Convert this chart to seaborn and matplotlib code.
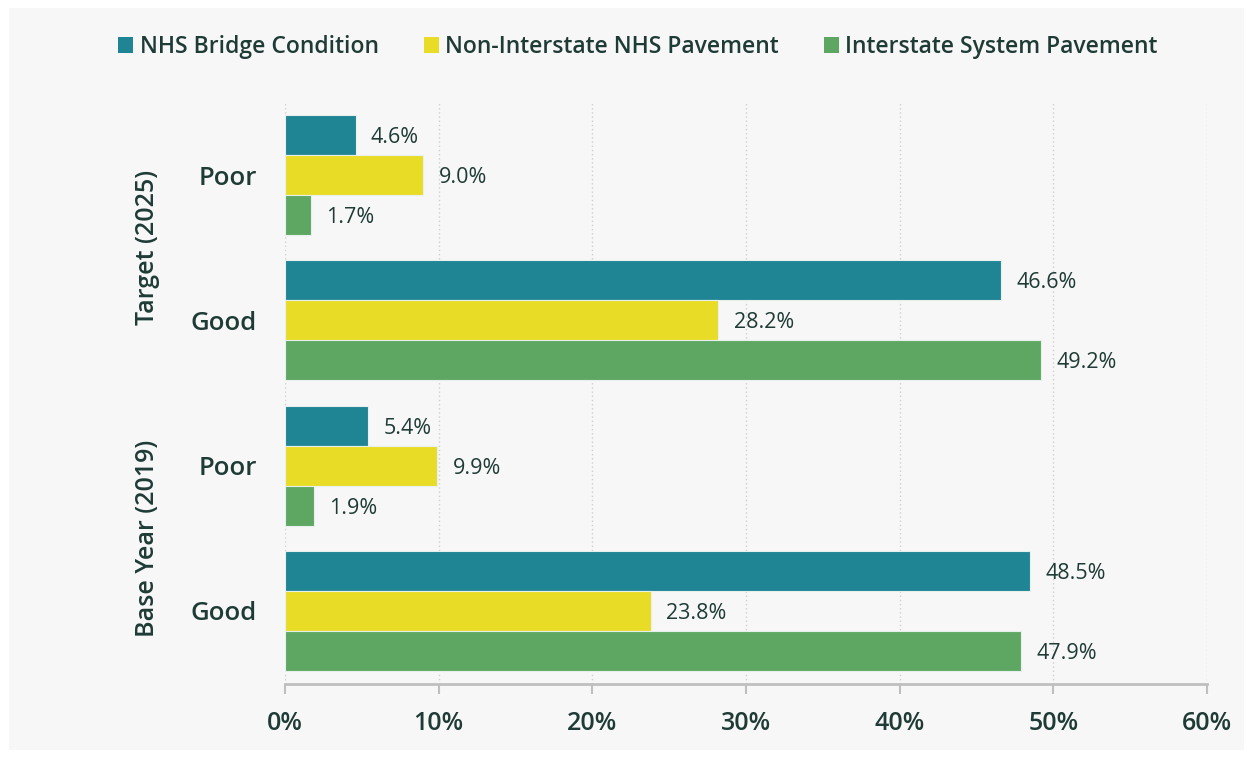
import matplotlib
matplotlib.use("Agg")
import matplotlib.pyplot as plt
from matplotlib.patches import Rectangle, Patch
from matplotlib.transforms import blended_transform_factory
import seaborn as sns
import pandas as pd

# Row categories (top to bottom) and series
rows = ["Target Poor", "Target Good", "Base Poor", "Base Good"]
row_labels = ["Poor", "Good", "Poor", "Good"]
groups = ["Target (2025)", "Base Year (2019)"]
series = ["NHS Bridge Condition", "Non-Interstate NHS Pavement", "Interstate System Pavement"]

bridge = [4.6, 46.6, 5.4, 48.5]
non_interstate = [9.0, 28.2, 9.9, 23.8]
interstate = [1.7, 49.2, 1.9, 47.9]

x_ticks = [0, 10, 20, 30, 40, 50, 60]

colors = ["#1f8595", "#e9dc26", "#5ea762"]
text_color = "#1f3b35"
bg = "#f7f7f7"

df = pd.DataFrame({
    "row": rows * 3,
    "series": [s for s in series for _ in rows],
    "value": bridge + non_interstate + interstate,
})

sns.set_theme(style="white")
plt.rcParams["font.family"] = ["Open Sans", "DejaVu Sans"]

fig = plt.figure(figsize=(12.52, 7.58), dpi=100, facecolor="white")
fig.patches.append(Rectangle((9 / 1252, 8 / 758), 1235 / 1252, 742 / 758,
                             transform=fig.transFigure, facecolor=bg,
                             edgecolor="none", zorder=-10))

ax = fig.add_axes([285 / 1252, 1 - 683.6 / 758, 922 / 1252, 581.2 / 758])
ax.set_facecolor("none")

sns.barplot(data=df, y="row", x="value", hue="series", order=rows,
            hue_order=series, palette=colors, orient="h", width=0.826,
            edgecolor="#e8f0ee", linewidth=0.8, saturation=1, legend=False,
            ax=ax, zorder=3)

for cont in ax.containers:
    texts = ax.bar_label(cont, labels=[f"{v:.1f}%" for v in cont.datavalues],
                         padding=11, fontsize=15.5, color=text_color)
    for t in texts:
        t.set_va("center_baseline")

ax.set_xlim(0, 60)
ax.set_ylim(3.5, -0.5)
ax.set_xticks(x_ticks)
ax.set_xticklabels([f"{t}%" for t in x_ticks], fontsize=18,
                   fontweight="semibold", color=text_color)
ax.set_yticks(range(len(rows)))
ax.set_yticklabels(row_labels, fontsize=18.5, fontweight="semibold", color=text_color)
ax.set_xlabel("")
ax.set_ylabel("")

ax.xaxis.grid(True, linestyle=(0, (1, 2)), color="#cfcfcf", linewidth=1, zorder=0)
ax.yaxis.grid(False)
for s in ["top", "right", "left"]:
    ax.spines[s].set_visible(False)
ax.spines["bottom"].set_color("#bfbfbf")
ax.spines["bottom"].set_linewidth(2)
ax.tick_params(axis="x", direction="out", length=7, width=1.5, color="#bfbfbf",
               pad=13, bottom=True)
ax.tick_params(axis="y", length=0, pad=20)

# Group labels on the left
trans = blended_transform_factory(fig.transFigure, ax.transData)
for g, ypos in zip(groups, [0.5, 2.5]):
    ax.text(148 / 1252, ypos, g, transform=trans, rotation=90, ha="center",
            va="center", fontsize=18, fontweight="semibold", color=text_color)

handles = [Patch(facecolor=c, edgecolor="none") for c in colors]
fig.legend(handles, series, loc="center", bbox_to_anchor=(638 / 1252, 1 - 47 / 758),
           ncol=3, frameon=False, handlelength=0.65, handleheight=0.65,
           handletextpad=0.3, columnspacing=1.95, labelcolor=text_color,
           prop={"weight": "semibold", "size": 16.5})

fig.savefig("out.png", dpi=100, facecolor="white")
